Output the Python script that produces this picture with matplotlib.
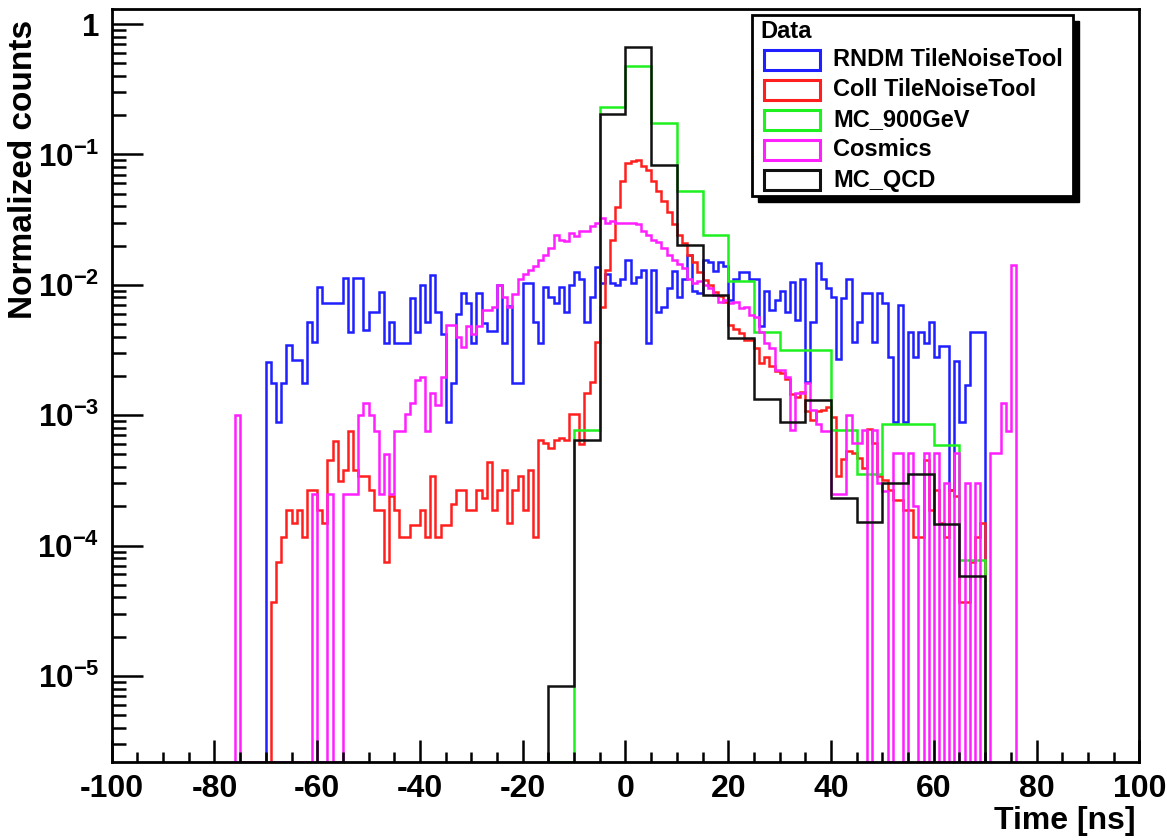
import numpy as np
import matplotlib
matplotlib.use("Agg")
import matplotlib.pyplot as plt
from matplotlib.patches import Rectangle
from matplotlib.ticker import FixedLocator, NullFormatter

plt.rcParams['font.family'] = ['Liberation Sans', 'DejaVu Sans']
plt.rcParams['font.weight'] = 'bold'
plt.rcParams['axes.unicode_minus'] = False
plt.rcParams['mathtext.fontset'] = 'custom'
plt.rcParams['mathtext.rm'] = 'Liberation Sans:bold'
plt.rcParams['mathtext.bf'] = 'Liberation Sans:bold'
plt.rcParams['mathtext.it'] = 'Liberation Sans:bold'
plt.rcParams['mathtext.default'] = 'rm'

# ---------------- data ----------------
series_labels = ["RNDM TileNoiseTool", "Coll TileNoiseTool", "MC_900GeV", "Cosmics", "MC_QCD"]
legend_title = "Data"
x_label = "Time [ns]"
y_label = "Normalized counts"

# RNDM TileNoiseTool: 1 ns bins from -70 to 70
rndm_start = -70
rndm_values = [
    2.57e-3, 1.76e-3, 8.9e-4, 1.76e-3, 3.45e-3, 2.65e-3, 2.65e-3, 1.76e-3, 5.2e-3, 3.66e-3,   # -70..-61
    9.7e-3, 7.2e-3, 7.2e-3, 7.2e-3, 7.2e-3, 1.12e-2, 4.37e-3, 1.12e-2, 1.12e-2, 4.5e-3,       # -60..-51
    6.2e-3, 6.2e-3, 8.85e-3, 3.56e-3, 5.2e-3, 3.56e-3, 3.56e-3, 3.56e-3, 7.9e-3, 4.37e-3,     # -50..-41
    1.0e-2, 5.2e-3, 1.19e-2, 6.2e-3, 4.2e-3, 8.9e-4, 1.76e-3, 6.0e-3, 8.6e-3, 7.2e-3,         # -40..-31
    3.56e-3, 8.6e-3, 5.1e-3, 4.4e-3, 4.4e-3, 1.0e-2, 3.6e-3, 6.9e-3, 1.76e-3, 1.76e-3,        # -30..-21
    1.03e-2, 1.03e-2, 5.2e-3, 3.56e-3, 9.7e-3, 8.0e-3, 7.2e-3, 9.7e-3, 6.2e-3, 1.0e-2,        # -20..-11
    1.26e-2, 1.1e-2, 5.2e-3, 8.0e-3, 1.38e-2, 1.03e-2, 1.2e-2, 1.03e-2, 1.0e-2, 1.1e-2,       # -10..-1
    1.55e-2, 1.03e-2, 1.15e-2, 1.3e-2, 3.56e-3, 1.3e-2, 6.2e-3, 6.7e-3, 9.4e-3, 1.28e-2,      # 0..9
    8.1e-3, 1.1e-2, 1.69e-2, 8.9e-3, 8.7e-3, 1.55e-2, 1.5e-2, 1.28e-2, 1.5e-2, 1.4e-2,        # 10..19
    7.7e-3, 1.1e-2, 1.25e-2, 1.25e-2, 1.1e-2, 1.1e-2, 4.8e-3, 9.0e-3, 6.4e-3, 7.7e-3,         # 20..29
    8.9e-3, 6.2e-3, 1.05e-2, 5.4e-3, 1.1e-2, 1.8e-3, 5.2e-3, 1.46e-2, 1.1e-2, 9.5e-3,         # 30..39
    8.1e-3, 2.7e-3, 7.9e-3, 1.1e-2, 3.66e-3, 5.2e-3, 8.6e-3, 8.6e-3, 3.66e-3, 8.6e-3,         # 40..49
    7.2e-3, 2.8e-3, 8.9e-4, 7.0e-3, 8.9e-4, 4.37e-3, 2.8e-3, 4.37e-3, 3.6e-3, 5.2e-3,         # 50..59
    2.8e-3, 3.4e-3, 3.4e-3, 2.67e-4, 2.59e-3, 8.9e-4, 1.7e-3, 4.37e-3, 4.37e-3, 4.37e-3,      # 60..69
]

# Coll TileNoiseTool: 1 ns bins from -69 to 70
coll_start = -69
coll_values = [
    3.7e-5, 7.5e-5, 1.17e-4, 1.88e-4, 1.48e-4, 1.88e-4, 1.17e-4, 2.67e-4, 2.67e-4,            # -69..-61
    1.88e-4, 1.48e-4, 4.5e-4, 6.3e-4, 3.1e-4, 3.8e-4, 7.5e-4, 3.8e-4, 3.4e-4, 3.4e-4,         # -60..-51
    2.67e-4, 1.88e-4, 1.88e-4, 7.5e-5, 2.4e-4, 1.88e-4, 1.17e-4, 1.17e-4, 1.45e-4, 1.45e-4,   # -50..-41
    1.88e-4, 1.17e-4, 3.4e-4, 1.17e-4, 1.45e-4, 1.45e-4, 2.1e-4, 2.67e-4, 2.67e-4, 1.88e-4,   # -40..-31
    1.88e-4, 2.67e-4, 2.3e-4, 4.4e-4, 1.88e-4, 2.67e-4, 3.8e-4, 1.48e-4, 2.67e-4, 3.4e-4,     # -30..-21
    1.88e-4, 3.8e-4, 1.17e-4, 6.45e-4, 6.1e-4, 5.6e-4, 6.45e-4, 6.7e-4, 6.45e-4, 1.03e-3,     # -20..-11
    1.03e-3, 6.0e-4, 1.47e-3, 1.8e-3, 3.66e-3, 6.8e-3, 1.3e-2, 2.2e-2, 3.97e-2, 6.2e-2,       # -10..-1
    8.55e-2, 8.9e-2, 9.06e-2, 8.2e-2, 7.6e-2, 6.3e-2, 5.2e-2, 4.4e-2, 3.6e-2, 2.9e-2,         # 0..9
    2.4e-2, 2.08e-2, 1.68e-2, 1.5e-2, 1.26e-2, 1.09e-2, 9.9e-3, 8.8e-3, 8.2e-3, 7.4e-3,       # 10..19
    4.9e-3, 4.6e-3, 4.3e-3, 3.78e-3, 3.78e-3, 3.3e-3, 2.5e-3, 2.8e-3, 2.4e-3, 2.2e-3,         # 20..29
    2.1e-3, 1.9e-3, 1.45e-3, 1.39e-3, 1.5e-3, 1.07e-3, 9.2e-4, 1.07e-3, 1.1e-3, 1.16e-3,      # 30..39
    9.6e-4, 3.4e-4, 4.6e-4, 5.3e-4, 5.1e-4, 4.7e-4, 3.9e-4, 7.8e-4, 6.1e-4, 3.4e-4,          # 40..49
    3.2e-4, 2.67e-4, 2.24e-4, 2.24e-4, 1.88e-4, 1.88e-4, 1.17e-4, 1.17e-4, 4.5e-4, 1.88e-4,   # 50..59
    2.67e-4, 1.48e-4, 1.17e-4, 2.67e-4, 2.4e-4, 3.7e-5, 3.7e-5, 7.5e-5, 1.17e-4, 1.5e-4,     # 60..69
]

# MC_900GeV: 5 ns bins from -15 to 70
mc900_start = -15
mc900_values = [0.0, 7.7e-4, 0.232, 0.476, 0.175, 0.0527, 0.0241, 0.0106, 4.37e-3,
                3.16e-3, 3.16e-3, 7.7e-4, 3.53e-4, 8.6e-4, 8.6e-4, 5.9e-4, 7.7e-5]

# Cosmics: 1 ns bins from -76 to 76
cosmics_start = -76
cosmics_values = [
    1.0e-3, 0, 0, 0, 0, 0, 0, 0, 0, 0,                                                        # -76..-67
    0, 0, 0, 0, 0, 2.5e-4, 0, 0, 2.5e-4, 0,                                                   # -66..-57
    0, 2.5e-4, 2.5e-4, 2.5e-4, 1.0e-3, 1.23e-3, 1.0e-3, 7.5e-4, 2.5e-4, 5.0e-4,               # -56..-47
    2.5e-4, 7.5e-4, 7.5e-4, 1.03e-3, 1.23e-3, 1.86e-3, 1.95e-3, 7.5e-4, 1.47e-3, 1.2e-3,      # -46..-37
    1.95e-3, 4.9e-3, 4.9e-3, 4.0e-3, 3.35e-3, 4.8e-3, 4.2e-3, 4.8e-3, 6.4e-3, 6.4e-3,         # -36..-27
    6.8e-3, 1.0e-2, 8.1e-3, 6.8e-3, 8.5e-3, 1.1e-2, 1.2e-2, 1.3e-2, 1.39e-2, 1.55e-2,         # -26..-17
    1.68e-2, 1.9e-2, 2.4e-2, 2.2e-2, 2.15e-2, 2.5e-2, 2.35e-2, 2.6e-2, 2.6e-2, 2.8e-2,        # -16..-7
    2.96e-2, 3.23e-2, 3.0e-2, 3.1e-2, 2.96e-2, 3.0e-2, 2.96e-2, 3.0e-2, 2.9e-2, 2.6e-2,       # -6..3
    2.4e-2, 2.2e-2, 2.14e-2, 1.9e-2, 1.7e-2, 1.55e-2, 1.45e-2, 1.35e-2, 1.1e-2, 1.03e-2,      # 4..13
    1.06e-2, 1.0e-2, 9.4e-3, 8.4e-3, 7.4e-3, 7.6e-3, 7.2e-3, 7.4e-3, 6.6e-3, 6.8e-3,          # 14..23
    5.9e-3, 5.7e-3, 4.37e-3, 3.6e-3, 3.26e-3, 2.22e-3, 2.22e-3, 1.97e-3, 7.7e-4, 1.47e-3,     # 24..33
    1.47e-3, 1.76e-3, 1.1e-3, 8.5e-4, 7.5e-4, 7.5e-4, 2.5e-4, 2.5e-4, 2.5e-4, 1.0e-3,         # 34..43
    6.1e-4, 6.1e-4, 7.7e-4, 0, 7.7e-4, 3.0e-4, 2.6e-4, 0, 5.1e-4, 5.1e-4,                     # 44..53
    0, 5.1e-4, 2.0e-4, 0, 5.1e-4, 0, 5.1e-4, 0, 3.0e-4, 0,                                    # 54..63
    5.1e-4, 0, 3.0e-4, 0, 3.0e-4, 0, 0, 5.1e-4, 5.1e-4, 1.23e-3,                              # 64..73
    7.5e-4, 1.42e-2,                                                                          # 74..75
]

# MC_QCD: 5 ns bins from -15 to 70
qcd_start = -15
qcd_values = [8.4e-6, 6.45e-4, 0.204, 0.663, 0.083, 0.0202, 0.0083, 0.0039, 1.32e-3,
              8.8e-4, 1.31e-3, 2.33e-4, 1.52e-4, 3.0e-4, 3.53e-4, 1.47e-4, 5.85e-5]

colors = ["#1f1fff", "#ff1f1f", "#1ff01f", "#ff1fff", "#111111"]

# ---------------- figure ----------------
W, H = 1167, 840
YMIN, YMAX = 2.2e-6, 1.315
fig = plt.figure(figsize=(W / 100, H / 100), dpi=100)
L, R, T, B = 111.7, 1139.3, 8.5, 761.7
ax = fig.add_axes([L / W, 1 - B / H, (R - L) / W, (B - T) / H])
ax.set_yscale('log')

def edges_for(start, n, width):
    return start + width * np.arange(n + 1)

hists = [
    (rndm_values, rndm_start, 1),
    (coll_values, coll_start, 1),
    (mc900_values, mc900_start, 5),
    (cosmics_values, cosmics_start, 1),
    (qcd_values, qcd_start, 5),
]
for (vals, start, width), col in zip(hists, colors):
    v = np.asarray(vals, dtype=float)
    v = np.where(v > 0, v, YMIN)
    e = edges_for(start, len(v), width)
    ax.stairs(v, e, baseline=1e-9, color=col, linewidth=1.8)

ax.set_xlim(-100, 100)
ax.set_ylim(YMIN, YMAX)

# ticks
ax.xaxis.set_major_locator(FixedLocator(np.arange(-100, 101, 20)))
ax.xaxis.set_minor_locator(FixedLocator(np.arange(-100, 101, 5)))
ax.set_xticklabels([str(v) for v in range(-100, 101, 20)])
decades = [10.0 ** k for k in range(-5, 1)]
ax.yaxis.set_major_locator(FixedLocator(decades))
ax.set_yticklabels(["$10^{%d}$" % k if k != 0 else "1" for k in range(-5, 1)])
minors = [m * 10.0 ** k for k in range(-6, 1) for m in range(2, 10)]
ax.yaxis.set_minor_locator(FixedLocator(minors))
ax.yaxis.set_minor_formatter(NullFormatter())

ax.tick_params(axis='x', which='major', direction='in', length=16, width=1.8,
               labelsize=23, pad=9, top=False)
ax.tick_params(axis='x', which='minor', direction='in', length=7.5, width=1.8, top=False)
ax.tick_params(axis='y', which='major', direction='in', length=22, width=1.8,
               labelsize=22.5, pad=9, right=False)
ax.tick_params(axis='y', which='minor', direction='in', length=10, width=1.8, right=False)
for lab in ax.get_xticklabels() + ax.get_yticklabels():
    lab.set_fontweight('bold')
for s in ax.spines.values():
    s.set_linewidth(2.0)

# axis titles
fig.text(1135 / W, 1 - 821 / H, x_label, ha='right', va='center',
         fontsize=23, fontweight='bold')
fig.text(24 / W, 1 - 20 / H, y_label, ha='center', va='top', rotation=90,
         fontsize=24, fontweight='bold')

# legend (ROOT style, with shadow)
lx0, ly0, lx1, ly1 = 752, 15, 1073, 196
sh = 6
fig.patches.append(Rectangle(((lx0 + sh) / W, 1 - (ly1 + sh) / H), (lx1 - lx0) / W, (ly1 - ly0) / H,
                             transform=fig.transFigure, facecolor='black', edgecolor='black', zorder=5))
fig.patches.append(Rectangle((lx0 / W, 1 - ly1 / H), (lx1 - lx0) / W, (ly1 - ly0) / H,
                             transform=fig.transFigure, facecolor='white', edgecolor='black',
                             linewidth=2.0, zorder=6))
fig.text(760 / W, 1 - 31 / H, legend_title, ha='left', va='center', fontsize=17,
         fontweight='bold', zorder=7)
for i, (lab, col) in enumerate(zip(series_labels, colors)):
    yc = 60 + 30 * i
    fig.patches.append(Rectangle((764 / W, 1 - (yc + 10) / H), 56 / W, 20 / H,
                                 transform=fig.transFigure, facecolor='white', edgecolor=col,
                                 linewidth=2.2, zorder=7))
    fig.text(833 / W, 1 - yc / H, lab, ha='left', va='center', fontsize=17,
             fontweight='bold', zorder=7)

fig.savefig("out.png", dpi=100)
